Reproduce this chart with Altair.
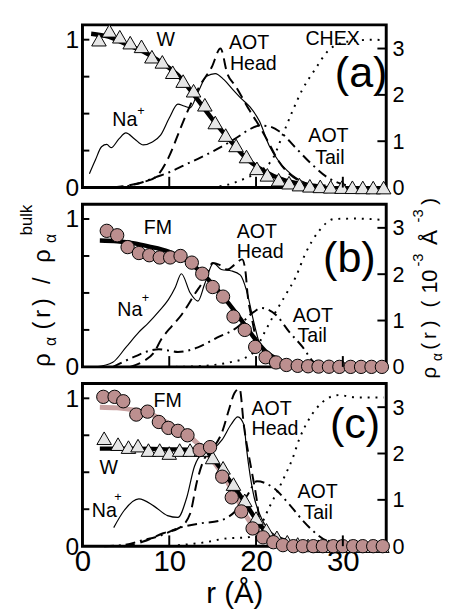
import altair as alt
import pandas as pd

FONT = "Liberation Sans"
W, H = 310, 166
XMAX = 35
LMAX = 1.1
RMAX = 3.51

# ---------------- panel (a) ----------------
a_w_r = [1.9, 3.1, 4.3, 5.5, 6.8, 8.0, 9.2, 10.4, 11.6, 12.8, 14.1, 15.3, 16.5, 17.7,
         18.9, 20.1, 21.3, 22.6, 23.8, 25.0, 26.2, 27.4, 28.6, 29.9, 31.1, 32.3, 33.5, 34.7]
a_w_v = [1.0, 1.06, 1.02, 0.98, 0.955, 0.885, 0.85, 0.78, 0.72, 0.655, 0.56, 0.44, 0.355, 0.285,
         0.21, 0.13, 0.086, 0.053, 0.033, 0.02, 0.012, 0.008, 0.005, 0.003, 0.002, 0.001, 0.0, 0.0]
a_fit_r = [1, 3, 5, 7, 9, 11, 13, 15, 17, 19, 21, 23, 25, 27, 28]
a_fit_v = [1.04, 1.02, 0.97, 0.92, 0.85, 0.76, 0.615, 0.46, 0.32, 0.19, 0.11, 0.055, 0.025, 0.01, 0.005]
a_na_r = [0.8, 1.5, 2.2, 2.8, 3.3, 4.2, 5.0, 6.0, 7.0, 8.0, 9.0, 10.0, 11.0, 11.7, 12.4, 13.3, 14.3,
          15.3, 16.3, 17.3, 18.3, 19.3, 20.4, 21.5, 22.5, 23.5, 24.6, 26.5, 28.5]
a_na_v = [0.3, 0.6, 0.88, 0.93, 0.86, 1.05, 1.18, 1.05, 0.92, 0.98, 1.13, 1.5, 1.8, 1.76, 1.72, 2.05, 2.4,
          2.46, 2.33, 2.12, 1.92, 1.74, 1.43, 0.91, 0.6, 0.38, 0.21, 0.06, 0.02]
a_head_r = [3.5, 5.4, 7.0, 8.4, 9.9, 11.3, 12.4, 13.5, 14.9, 15.9, 16.7, 17.6, 19.3, 20.4, 21.5, 22.5, 23.8, 25.3, 27.0]
a_head_v = [0.0, 0.05, 0.12, 0.22, 0.64, 1.28, 1.77, 2.19, 2.6, 3.0, 2.45, 2.2, 1.65, 1.32, 0.95, 0.6, 0.3, 0.12, 0.03]
a_tail_r = [3.5, 5.4, 7.0, 8.4, 10.0, 11.8, 13.3, 14.7, 16.2, 17.8, 19.2, 20.4, 21.5, 22.7, 24.6, 26.5, 28.3, 30.2, 31.5]
a_tail_v = [0.0, 0.04, 0.12, 0.22, 0.33, 0.49, 0.62, 0.75, 0.9, 1.08, 1.25, 1.34, 1.32, 1.21, 0.85, 0.49, 0.21, 0.06, 0.0]
a_chex_r = [14.0, 16.7, 18.9, 20.4, 22.0, 23.1, 24.2, 25.3, 26.8, 28.3, 29.8, 31.5, 33.6, 35.0]
a_chex_v = [0.0, 0.06, 0.21, 0.35, 0.65, 1.15, 1.65, 2.1, 2.55, 2.95, 3.12, 3.17, 3.19, 3.17]

# ---------------- panel (b) ----------------
b_fm_r = [2.8, 4.0, 5.2, 6.5, 7.7, 8.9, 10.1, 11.3, 12.6, 13.8, 15.0, 16.2, 17.4, 18.7,
          19.9, 21.1, 22.3, 23.5, 24.8, 26.0, 27.2, 28.4, 29.6, 30.9, 32.1, 33.3, 34.5]
b_fm_v = [0.92, 0.89, 0.81, 0.77, 0.755, 0.74, 0.74, 0.75, 0.705, 0.63, 0.54, 0.475, 0.34, 0.25,
          0.135, 0.065, 0.03, 0.013, 0.007, 0.004, 0.002, 0.001, 0.0, 0.0, 0.0, 0.0, 0.0]
b_fit_r = [2, 4, 6, 7.6, 9.9, 12, 14, 16, 18, 19, 20, 21.2, 22.5, 24, 26]
b_fit_v = [0.855, 0.85, 0.835, 0.815, 0.78, 0.72, 0.62, 0.49, 0.34, 0.26, 0.18, 0.1, 0.05, 0.02, 0.0]
b_na_r = [1.6, 3.5, 5.0, 6.5, 7.6, 8.8, 9.9, 10.7, 11.4, 12.4, 13.3, 14.1, 15.1, 16.0, 17.2,
          18.2, 18.9, 19.7, 20.4, 21.5, 22.5, 24.6]
b_na_v = [0.0, 0.1, 0.42, 0.75, 0.95, 1.2, 1.45, 1.72, 2.01, 1.6, 1.42, 1.8, 2.24, 2.1, 2.07,
          1.98, 1.65, 1.0, 0.5, 0.17, 0.08, 0.02]
b_head_r = [5.5, 7.0, 8.2, 9.1, 10.3, 11.4, 12.9, 14.2, 15.0, 15.8, 16.7, 17.5, 18.4, 18.8, 19.0, 19.6, 20.2, 20.8, 21.5]
b_head_v = [0.0, 0.12, 0.3, 0.6, 0.88, 1.12, 1.56, 1.94, 2.24, 2.2, 2.1, 2.2, 2.32, 2.03, 1.61, 0.97, 0.42, 0.13, 0.02]
b_tail_r = [3.5, 4.6, 6.0, 7.6, 8.8, 10.0, 11.0, 13.3, 15.5, 17.8, 19.7, 20.6, 22.3, 23.8, 25.4, 26.5, 27.4]
b_tail_v = [0.0, 0.1, 0.22, 0.34, 0.38, 0.35, 0.32, 0.42, 0.63, 0.85, 1.18, 1.27, 1.12, 0.76, 0.42, 0.13, 0.02]
b_chex_r = [10.7, 14.5, 17.0, 18.8, 20.0, 20.8, 22.0, 23.4, 24.6, 25.7, 27.2, 29.0, 31.4, 34.7]
b_chex_v = [0.0, 0.03, 0.1, 0.2, 0.38, 0.68, 1.1, 1.55, 1.95, 2.45, 2.92, 3.19, 3.2, 3.17]

# ---------------- panel (c) ----------------
c_fm_r = [2.4, 3.7, 4.7, 6.2, 7.5, 8.8, 9.9, 11.0, 12.1, 13.5, 14.7, 16.1, 17.2, 18.3,
          19.6, 20.8, 22.0, 23.1, 24.3, 25.4, 26.6, 27.7, 28.9, 30.0, 31.2, 32.3, 33.5, 34.6]
c_fm_v = [1.01, 1.01, 0.98, 0.89, 0.91, 0.84, 0.80, 0.78, 0.75, 0.65, 0.67, 0.47, 0.33, 0.235,
          0.12, 0.06, 0.027, 0.007, 0.0, 0.0, 0.0, 0.0, 0.0, 0.0, 0.0, 0.0, 0.0, 0.0]
c_fmfit_r = [2, 4, 6, 8, 9.3, 10.5, 12.4, 14.3, 16.1, 17.8, 18.9, 20.0, 21.5, 22.5, 24]
c_fmfit_v = [0.94, 0.935, 0.92, 0.89, 0.85, 0.81, 0.74, 0.63, 0.49, 0.32, 0.2, 0.11, 0.04, 0.02, 0.005]
c_w_r = [2.5, 4.1, 5.3, 6.4, 7.6, 8.9, 10.0, 11.2, 12.4, 13.7, 15.0, 16.2, 17.4, 18.7,
         20.0, 21.2, 22.4, 23.6, 24.8, 26.0, 27.2, 28.4, 29.6, 30.8, 32.0, 33.2, 34.5]
c_w_v = [0.73, 0.69, 0.67, 0.68, 0.65, 0.65, 0.63, 0.65, 0.65, 0.65, 0.6, 0.53, 0.42, 0.31,
         0.19, 0.11, 0.06, 0.03, 0.015, 0.005, 0.0, 0.0, 0.0, 0.0, 0.0, 0.0, 0.0]
c_wfit_r = [2, 6, 10, 13, 14.5, 16, 17.5, 19, 20.5, 22, 24]
c_wfit_v = [0.66, 0.66, 0.655, 0.65, 0.62, 0.52, 0.4, 0.27, 0.14, 0.06, 0.01]
c_na_r = [3.6, 4.8, 6.5, 8.2, 9.8, 11.0, 12.0, 12.9, 13.8, 15.0, 16.1, 17.1, 17.9, 18.6,
          18.9, 19.3, 19.8, 20.4, 21.5, 23.1, 25.4, 28.0]
c_na_v = [0.40, 0.77, 1.02, 0.87, 0.66, 0.62, 1.04, 1.72, 2.0, 2.09, 2.3, 2.62, 2.79, 2.62,
          2.11, 1.55, 1.04, 0.70, 0.34, 0.17, 0.06, 0.02]
c_head_r = [4.8, 7.0, 9.3, 11.2, 12.4, 13.2, 13.9, 15.0, 16.1, 16.9, 17.5, 18.1, 18.6, 19.5, 20.1, 20.4, 21.2, 22.0, 23.0]
c_head_v = [0.0, 0.1, 0.28, 0.4, 0.7, 1.4, 1.83, 2.1, 2.47, 2.96, 3.3, 3.4, 2.6, 1.62, 0.98, 0.55, 0.19, 0.05, 0.0]
c_tail_r = [2.5, 4.5, 7.0, 9.0, 10.9, 13.5, 15.8, 17.7, 19.0, 20.1, 22.0, 23.8, 25.4, 26.5, 28.0, 29.4, 30.5]
c_tail_v = [0.0, 0.02, 0.13, 0.23, 0.38, 0.49, 0.55, 0.77, 1.1, 1.4, 1.26, 0.91, 0.55, 0.34, 0.13, 0.06, 0.0]
c_chex_r = [11.0, 14.0, 16.7, 19.0, 20.4, 21.5, 22.5, 23.4, 24.2, 25.0, 26.1, 27.6, 29.5, 31.7, 34.7]
c_chex_v = [0.02, 0.08, 0.17, 0.19, 0.4, 0.83, 1.2, 1.55, 1.89, 2.32, 2.74, 3.1, 3.26, 3.21, 3.21]

# axis tick values
x_ticks = [10, 20, 30]
left_ticks = [0.25, 0.5, 0.75, 1.0]
right_ticks = [1, 2, 3]
x_labels = [0, 10, 20, 30]


def frame(r, v):
    return pd.DataFrame({"r": r, "v": v})


dummy = pd.DataFrame({"k": [0]})
xs = alt.Scale(domain=[0, XMAX], nice=False, zero=False)
ls = alt.Scale(domain=[0, LMAX], nice=False, zero=False)
rs = alt.Scale(domain=[0, RMAX], nice=False, zero=False)

left_axis = alt.Axis(values=[0, 1], format="d", labelFontSize=25, labelPadding=4,
                     ticks=False, domain=False, grid=False, title=None)
right_axis = alt.Axis(orient="right", values=[0, 1, 2, 3], format="d", labelFontSize=22,
                      labelPadding=6, ticks=False, domain=False, grid=False, title=None)
bottom_axis = alt.Axis(values=x_labels, format="d", labelFontSize=30, labelPadding=1,
                       labelFlush=False, ticks=False, domain=False, grid=False,
                       title="r (Å)", titleFontSize=30, titleFontWeight="normal", titlePadding=2)


def txt(s, x, y, size=20):
    return (alt.Chart(dummy)
            .mark_text(text=s, font=FONT, fontSize=size, align="left", baseline="alphabetic", color="black")
            .encode(x=alt.value(x), y=alt.value(y)))


def vtxt(s, cx, cy, size):
    # rotated text piece, centred on (cx, cy)
    return (alt.Chart(dummy)
            .mark_text(text=s, font=FONT, fontSize=size, align="center", baseline="middle", angle=270,
                       color="black")
            .encode(x=alt.value(cx), y=alt.value(cy)))


def panel(series, markers, fits, labels, xaxis, extra=()):
    X = alt.X("r:Q", scale=xs, axis=xaxis)
    YL = alt.Y("v:Q", scale=ls, axis=left_axis)
    YR = alt.Y("v:Q", scale=rs, axis=right_axis)

    right_layers = []
    for (r, v, style) in series:
        right_layers.append(alt.Chart(frame(r, v)).mark_line(interpolate="monotone", color="black", **style)
                            .encode(x=X, y=YR))
    right_layers.append(alt.Chart(pd.DataFrame({"v": right_ticks})).mark_rule(color="black", strokeWidth=2)
                        .encode(y=YR, x=alt.value(W - 9), x2=alt.value(W)))
    right = alt.layer(*right_layers)

    left_layers = []
    for (r, v, color, width) in fits:
        left_layers.append(alt.Chart(frame(r, v)).mark_line(interpolate="monotone", color=color, strokeWidth=width)
                           .encode(x=X, y=YL))
    for (r, v, shape, color, size) in markers:
        left_layers.append(alt.Chart(frame(r, v)).mark_point(shape=shape, filled=True, color=color, stroke="black",
                                                             strokeWidth=1, size=size, opacity=1)
                           .encode(x=X, y=YL))
    left_layers.append(alt.Chart(pd.DataFrame({"v": left_ticks})).mark_rule(color="black", strokeWidth=2)
                       .encode(y=YL, x=alt.value(0), x2=alt.value(7)))
    left_layers.append(alt.Chart(pd.DataFrame({"r": x_ticks})).mark_rule(color="black", strokeWidth=2)
                       .encode(x=X, y=alt.value(H), y2=alt.value(H - 11)))
    left = alt.layer(*left_layers)

    texts = [txt(*l) for l in labels] + list(extra)
    return alt.layer(right, left, *texts).resolve_scale(y="independent").properties(width=W, height=H)


HEAD = dict(strokeWidth=2, strokeDash=[11, 6])
TAIL = dict(strokeWidth=2, strokeDash=[10, 5, 2, 5])
CHEX = dict(strokeWidth=2, strokeDash=[2, 6])
NA = dict(strokeWidth=1.2)
TRI_FILL = "#e6e6e6"
FM_FILL = "#bc8f8f"

pa = panel(
    series=[(a_na_r, a_na_v, NA), (a_head_r, a_head_v, HEAD), (a_tail_r, a_tail_v, TAIL), (a_chex_r, a_chex_v, CHEX)],
    markers=[(a_w_r, a_w_v, "triangle-up", TRI_FILL, 220)],
    fits=[(a_fit_r, a_fit_v, "black", 4.5)],
    labels=[("W", 75.5, 22), ("AOT", 149.5, 25), ("Head", 150.5, 46), ("CHEX", 227.5, 21),
            ("Na", 30.5, 103), ("+", 56, 92, 13), ("AOT", 230.5, 120), ("Tail", 237.5, 142),
            ("(a)", 257.5, 63, 44)],
    xaxis=None,
)

# rotated axis titles: centres in page coordinates, converted to panel-(b) plot coordinates
OX, OY = 82.5, 198
left_title = [("ρ", 42, 357, 24), ("α", 50, 338, 16), ("(", 42, 322, 24), ("r", 42, 310, 24),
              (")", 42, 298, 24), ("/", 42, 276, 24), ("ρ", 42, 251, 24), ("α", 50, 233, 16),
              ("bulk", 26, 214, 17)]
right_title = [("ρ", 437, 370, 21), ("α", 445, 354, 14), ("(", 437, 343, 21), ("r", 437, 332, 21),
               (")", 437, 320, 21), ("(", 437, 300, 21), ("10", 437, 277, 22), ("-3", 425, 255, 15),
               ("Å", 437, 232, 23), ("-3", 425, 210, 15), (")", 437, 195, 21)]
title_marks = [vtxt(s, x - OX, y - OY, size) for (s, x, y, size) in left_title + right_title]

pb = panel(
    series=[(b_na_r, b_na_v, NA), (b_head_r, b_head_v, HEAD), (b_tail_r, b_tail_v, TAIL), (b_chex_r, b_chex_v, CHEX)],
    markers=[(b_fm_r, b_fm_v, "circle", FM_FILL, 185)],
    fits=[(b_fit_r, b_fit_v, "black", 4.5)],
    labels=[("FM", 62.5, 30), ("AOT", 157.5, 34), ("Head", 157.5, 55), ("Na", 35.5, 114),
            ("+", 60.5, 100, 13), ("AOT", 214.5, 120), ("Tail", 219.5, 141), ("(b)", 245.5, 69, 44)],
    xaxis=None,
    extra=title_marks,
)

pc = panel(
    series=[(c_na_r, c_na_v, NA), (c_head_r, c_head_v, HEAD), (c_tail_r, c_tail_v, TAIL), (c_chex_r, c_chex_v, CHEX)],
    markers=[(c_w_r, c_w_v, "triangle-up", TRI_FILL, 220), (c_fm_r, c_fm_v, "circle", FM_FILL, 185)],
    fits=[(c_fmfit_r, c_fmfit_v, "#c9a2a2", 5), (c_wfit_r, c_wfit_v, "black", 4.5)],
    labels=[("FM", 72.5, 24), ("AOT", 172.5, 32), ("Head", 172.5, 53), ("W", 17.5, 92), ("Na", 9.5, 136),
            ("+", 32.5, 120, 13), ("AOT", 219.5, 117), ("Tail", 225.5, 138), ("(c)", 252.5, 56, 44)],
    xaxis=bottom_axis,
)

chart = (
    alt.vconcat(pa, pb, pc, spacing=17, bounds="flush")
    .properties(padding={"left": 9, "top": 7, "right": 0, "bottom": 0})
    .configure_view(stroke="black", strokeWidth=3)
    .configure_axis(labelFont=FONT, titleFont=FONT, labelColor="black", titleColor="black")
    .configure_text(font=FONT)
)

chart.save("out.html", embed_options={"renderer": "svg", "actions": False})
